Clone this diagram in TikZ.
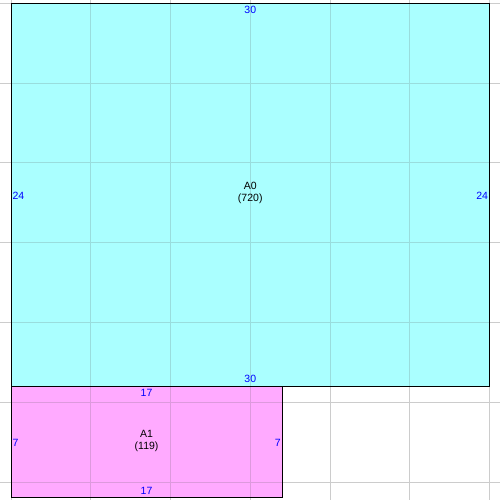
\documentclass[tikz,border=0pt]{standalone}
\usepackage{fontspec}
\setmainfont{Liberation Sans}
\definecolor{cyanfill}{HTML}{AAFFFF}
\definecolor{magfill}{HTML}{FFAAFF}
\definecolor{gridc}{HTML}{CCCCCC}
\definecolor{gridcyan}{HTML}{99DDDD}
\definecolor{gridmag}{HTML}{DD99DD}
\definecolor{dimblue}{HTML}{0000FF}
\tikzset{
  gridline/.style={draw=gridc, line width=1pt},
  dimlbl/.style={text=dimblue, font=\fontsize{10.5}{12}\selectfont, inner sep=1pt},
  namelbl/.style={text=black, font=\fontsize{10.5}{12}\selectfont, align=center, inner sep=0pt}
}
\begin{document}
\begin{tikzpicture}[x=15.95pt, y=-15.95pt]
\useasboundingbox (-0.6897,-0.2194) rectangle (30.658,31.128);
% grid
\foreach \g in {0,5,10,15,20,25,30} {
  \draw[gridline] (\g,-0.3) -- (\g,31.2);
  \draw[gridline] (-0.7,\g) -- (30.7,\g);
}
% pieces
\fill[cyanfill] (0,0) rectangle (30,24);
\fill[magfill] (0,24) rectangle (17,31);
\begin{scope}
  \clip (0,0) rectangle (30,24);
  \foreach \g in {0,5,10,15,20,25,30} {
    \draw[gridline, draw=gridcyan] (\g,-0.3) -- (\g,31.2);
    \draw[gridline, draw=gridcyan] (-0.7,\g) -- (30.7,\g);
  }
\end{scope}
\begin{scope}
  \clip (0,24) rectangle (17,31);
  \foreach \g in {0,5,10,15,20,25,30} {
    \draw[gridline, draw=gridmag] (\g,-0.3) -- (\g,31.2);
    \draw[gridline, draw=gridmag] (-0.7,\g) -- (30.7,\g);
  }
\end{scope}
\draw[line width=1pt] (0,0) rectangle (30,24);
\draw[line width=1pt] (0,24) rectangle (17,31);
% A0 labels
\node[dimlbl] (a0top) at (15,0.42) {30};
\node[dimlbl] (a0bot) at (15,23.55) {30};
\node[dimlbl, anchor=west] (a0left) at (0.02,12.05) {24};
\node[dimlbl, anchor=east] (a0right) at (29.98,12.05) {24};
\node[namelbl] (a0name) at (15,11.9) {A0\\(720)};
% A1 labels
\node[dimlbl] (a1top) at (8.5,24.4) {17};
\node[dimlbl] (a1bot) at (8.5,30.58) {17};
\node[dimlbl, anchor=west] (a1left) at (0.02,27.55) {7};
\node[dimlbl, anchor=east] (a1right) at (16.98,27.55) {7};
\node[namelbl] (a1name) at (8.5,27.4) {A1\\(119)};
\end{tikzpicture}
\end{document}
